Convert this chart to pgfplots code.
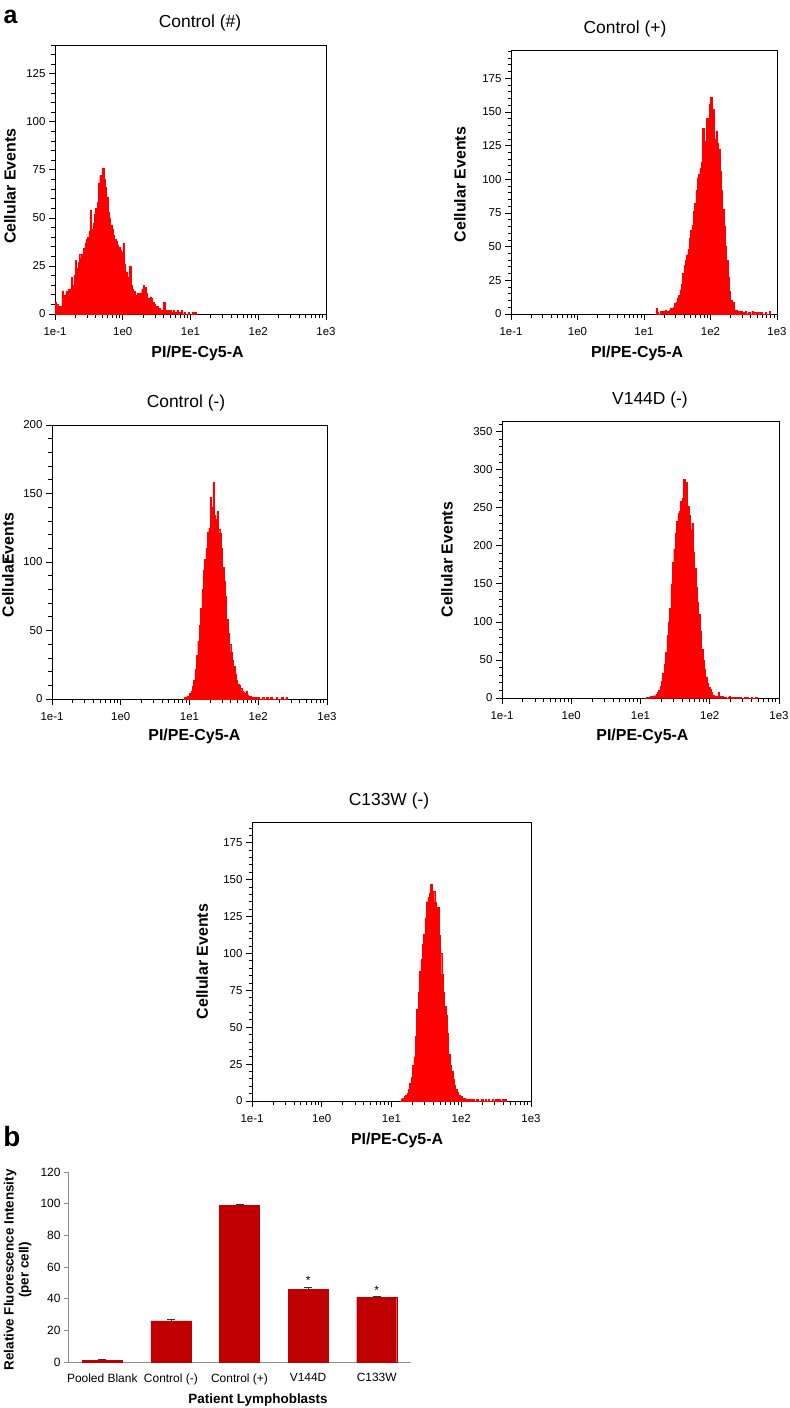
\documentclass[border=0pt]{standalone}
\usepackage{fontspec}
\setmainfont{Liberation Sans}
\usepackage{pgfplots}
\pgfplotsset{compat=1.18}
\definecolor{histred}{RGB}{255,0,0}
\definecolor{barred}{RGB}{192,0,0}
\pgfplotsset{
  hist/.style={
    scale only axis,
    xmin=-1, xmax=3, ymin=0,
    xtick={-1,0,1,2,3},
    xticklabels={1e-1,1e0,1e1,1e2,1e3},
    minor xtick={-0.699,-0.523,-0.398,-0.301,-0.222,-0.155,-0.097,-0.046,
      0.301,0.477,0.602,0.699,0.778,0.845,0.903,0.954,
      1.301,1.477,1.602,1.699,1.778,1.845,1.903,1.954,
      2.301,2.477,2.602,2.699,2.778,2.845,2.903,2.954},
    tick align=outside, tick pos=left,
    major tick length=6bp, minor tick length=3.5bp,
    axis line style={line width=0.9bp},
    every tick/.style={black, line width=0.8bp},
    ticklabel style={font=\fontsize{11.5}{11.5}\selectfont},
    /pgf/number format/assume math mode=true,
    xticklabel style={yshift=-4bp},
    xlabel={PI/PE-Cy5-A}, ylabel={Cellular Events},
    label style={font=\fontsize{16}{16}\selectfont\bfseries},
    xlabel style={anchor=center},
    ylabel style={anchor=center},
  },
  histplot/.style={const plot, fill=histred, draw=histred, line width=0.4bp},
}
\begin{document}
\begin{tikzpicture}
\path[use as bounding box] (0,0) rectangle (790bp,-1408bp);

% Panel 1: Control (#)
\begin{axis}[hist, at={(55bp,-314bp)}, anchor=south west, width=271bp, height=269bp,
  ymax=140, ytick={0,25,...,125}, minor ytick={0,5,...,140},
  ylabel style={at={(axis description cs:-0.166,0.475)}},
  xlabel style={at={(axis description cs:0.526,-0.145)}}]
\addplot[histplot] coordinates {(-1.00,6) (-0.98,5) (-0.96,4) (-0.94,3) (-0.92,4) (-0.90,12) (-0.88,9) (-0.86,10) (-0.84,12) (-0.82,10) (-0.80,13) (-0.78,12) (-0.76,19) (-0.74,15) (-0.72,20) (-0.70,28) (-0.68,24) (-0.66,27) (-0.64,31) (-0.62,29) (-0.60,31) (-0.58,34) (-0.56,37) (-0.54,39) (-0.52,40) (-0.50,43) (-0.48,54) (-0.46,44) (-0.44,47) (-0.42,52) (-0.40,55) (-0.38,58) (-0.36,68) (-0.34,72) (-0.32,65) (-0.30,76) (-0.28,70) (-0.26,66) (-0.24,61) (-0.22,53) (-0.20,50) (-0.18,46) (-0.16,44) (-0.14,41) (-0.12,39) (-0.10,38) (-0.08,36) (-0.06,35) (-0.04,33) (-0.02,32) (0.00,37) (0.02,26) (0.04,22) (0.06,19) (0.08,17) (0.10,25) (0.12,15) (0.14,13) (0.16,12) (0.18,9) (0.20,10) (0.22,11) (0.24,10) (0.26,11) (0.28,13) (0.30,15) (0.32,14) (0.34,11) (0.36,8) (0.38,8) (0.40,9) (0.42,8) (0.44,6) (0.46,5) (0.48,4) (0.50,4) (0.52,3) (0.54,3) (0.56,2) (0.58,2) (0.60,6) (0.62,2) (0.64,1) (0.66,2) (0.68,1) (0.70,2) (0.72,1) (0.74,2) (0.76,1) (0.78,1) (0.80,2) (0.82,0) (0.84,1) (0.86,2) (0.88,0) (0.90,1) (0.92,0) (0.94,0) (0.96,1) (0.98,0) (1.00,0) (1.02,1) (1.04,0) (1.06,1) (1.08,0) (1.10,0)} \closedcycle;
\end{axis}

% Panel 2: Control (+)
\begin{axis}[hist, at={(511bp,-314bp)}, anchor=south west, width=266bp, height=264bp,
  ymax=196, ytick={0,25,...,175}, minor ytick={0,5,...,195},
  ylabel style={at={(axis description cs:-0.192,0.49)}},
  xlabel style={at={(axis description cs:0.474,-0.148)}}]
\addplot[histplot] coordinates {(1.16,0) (1.18,4) (1.20,1) (1.22,0) (1.24,2) (1.26,1) (1.28,2) (1.30,1) (1.32,3) (1.34,2) (1.36,2) (1.38,3) (1.40,4) (1.42,3) (1.44,5) (1.46,8) (1.48,9) (1.50,12) (1.52,14) (1.54,18) (1.56,22) (1.58,30) (1.60,36) (1.62,40) (1.64,44) (1.66,48) (1.68,56) (1.70,62) (1.72,66) (1.74,76) (1.76,82) (1.78,92) (1.80,101) (1.82,104) (1.84,108) (1.86,113) (1.88,138) (1.90,118) (1.92,128) (1.94,145) (1.96,135) (1.98,156) (2.00,161) (2.02,140) (2.04,152) (2.06,130) (2.08,136) (2.10,127) (2.12,122) (2.14,106) (2.16,92) (2.18,78) (2.20,65) (2.22,50) (2.24,40) (2.26,27) (2.28,17) (2.30,10) (2.32,6) (2.34,9) (2.36,3) (2.38,3) (2.40,2) (2.42,2) (2.44,1) (2.46,2) (2.48,1) (2.50,1) (2.52,2) (2.54,0) (2.56,1) (2.58,1) (2.60,0) (2.62,2) (2.64,0) (2.66,1) (2.68,0) (2.70,1) (2.72,1) (2.74,0) (2.76,1) (2.78,0) (2.80,0) (2.82,1) (2.84,0) (2.86,0) (2.88,2) (2.90,0)} \closedcycle;
\end{axis}

% Panel 3: Control (-)
\begin{axis}[hist, at={(52bp,-699bp)}, anchor=south west, width=275bp, height=274bp,
  ymax=200, ytick={0,50,...,200}, minor ytick={0,10,...,200},
  ylabel={Cellula\rlap{r}Events},
  ylabel style={at={(axis description cs:-0.16,0.49)}},
  xlabel style={at={(axis description cs:0.518,-0.135)}}]
\addplot[histplot] coordinates {(0.90,0) (0.92,1) (0.94,1) (0.96,2) (0.98,2) (1.00,4) (1.02,6) (1.04,9) (1.06,14) (1.08,22) (1.10,32) (1.12,42) (1.14,54) (1.16,66) (1.18,80) (1.20,94) (1.22,102) (1.24,110) (1.26,122) (1.28,125) (1.30,147) (1.32,140) (1.34,158) (1.36,134) (1.38,131) (1.40,137) (1.42,124) (1.44,121) (1.46,110) (1.48,96) (1.50,86) (1.52,75) (1.54,58) (1.56,48) (1.58,40) (1.60,34) (1.62,28) (1.64,24) (1.66,18) (1.68,14) (1.70,11) (1.72,10) (1.74,8) (1.76,6) (1.78,5) (1.80,4) (1.82,6) (1.84,3) (1.86,2) (1.88,2) (1.90,1) (1.92,1) (1.94,0) (1.96,1) (1.98,0) (2.00,1) (2.02,0) (2.04,0) (2.06,1) (2.08,0) (2.10,0) (2.12,1) (2.14,0) (2.16,0) (2.18,1) (2.20,0) (2.22,0) (2.24,0) (2.26,1) (2.28,0) (2.30,0) (2.32,0) (2.34,1) (2.36,0) (2.38,0) (2.40,1) (2.42,0)} \closedcycle;
\end{axis}

% Panel 4: V144D (-)
\begin{axis}[hist, at={(502bp,-698bp)}, anchor=south west, width=277bp, height=277bp,
  ymax=364, ytick={0,50,...,350}, minor ytick={0,10,...,360},
  ylabel style={at={(axis description cs:-0.199,0.5)}},
  xlabel style={at={(axis description cs:0.507,-0.137)}}]
\addplot[histplot] coordinates {(1.06,0) (1.08,1) (1.10,1) (1.12,1) (1.14,2) (1.16,2) (1.18,3) (1.20,3) (1.22,5) (1.24,7) (1.26,10) (1.28,15) (1.30,22) (1.32,32) (1.34,45) (1.36,60) (1.38,82) (1.40,100) (1.42,118) (1.44,150) (1.46,178) (1.48,196) (1.50,217) (1.52,232) (1.54,243) (1.56,246) (1.58,258) (1.60,262) (1.62,287) (1.64,266) (1.66,283) (1.68,252) (1.70,240) (1.72,221) (1.74,230) (1.76,192) (1.78,170) (1.80,146) (1.82,126) (1.84,110) (1.86,88) (1.88,64) (1.90,50) (1.92,38) (1.94,28) (1.96,20) (1.98,14) (2.00,11) (2.02,7) (2.04,4) (2.06,3) (2.08,2) (2.10,2) (2.12,8) (2.14,2) (2.16,1) (2.18,2) (2.20,1) (2.22,1) (2.24,0) (2.26,1) (2.28,2) (2.30,1) (2.32,0) (2.34,1) (2.36,1) (2.38,0) (2.40,1) (2.42,0) (2.44,1) (2.46,0) (2.48,0) (2.50,1) (2.52,0) (2.54,1) (2.56,0) (2.58,0) (2.60,1) (2.62,0) (2.64,0) (2.66,1) (2.68,0) (2.70,0)} \closedcycle;
\end{axis}

% Panel 5: C133W (-)
\begin{axis}[hist, at={(252bp,-1101bp)}, anchor=south west, width=279bp, height=279bp,
  ymax=189, ytick={0,25,...,175}, minor ytick={0,5,...,185},
  ylabel style={at={(axis description cs:-0.179,0.5)}},
  xlabel style={at={(axis description cs:0.52,-0.14)}}]
\addplot[histplot] coordinates {(1.12,0) (1.14,1) (1.16,2) (1.18,3) (1.20,4) (1.22,5) (1.24,8) (1.26,12) (1.28,16) (1.30,24) (1.32,30) (1.34,44) (1.36,62) (1.38,74) (1.40,88) (1.42,96) (1.44,106) (1.46,113) (1.48,124) (1.50,135) (1.52,138) (1.54,141) (1.56,147) (1.58,138) (1.60,142) (1.62,135) (1.64,130) (1.66,131) (1.68,112) (1.70,100) (1.72,86) (1.74,74) (1.76,64) (1.78,58) (1.80,46) (1.82,32) (1.84,24) (1.86,20) (1.88,15) (1.90,11) (1.92,8) (1.94,6) (1.96,4) (1.98,3) (2.00,3) (2.02,2) (2.04,2) (2.06,1) (2.08,1) (2.10,0) (2.12,1) (2.14,0) (2.16,1) (2.18,0) (2.20,0) (2.22,1) (2.24,0) (2.26,0) (2.28,1) (2.30,1) (2.32,0) (2.34,1) (2.36,0) (2.38,1) (2.40,0) (2.42,0) (2.44,1) (2.46,0) (2.48,1) (2.50,0) (2.52,1) (2.54,1) (2.56,0) (2.58,1) (2.60,0) (2.62,1) (2.64,0)} \closedcycle;
\end{axis}

% Panel b: bar chart
\begin{axis}[scale only axis, at={(68bp,-1362bp)}, anchor=south west, width=343bp, height=190bp,
  xmin=-0.5, xmax=4.5, ymin=0, ymax=120,
  axis x line=bottom, axis y line=left,
  axis line style={-, draw=black!45, line width=0.8bp},
  ytick={0,20,...,120},
  xtick={0,1,2,3,4},
  xticklabels={Pooled Blank,Control (-),Control (+),V144D,C133W},
  x tick style={draw=none},
  y tick style={draw=black!45, line width=0.8bp},
  tick align=outside, major tick length=4bp,
  ticklabel style={font=\fontsize{12}{12}\selectfont},
  /pgf/number format/assume math mode=true,
  xticklabel style={yshift=-4bp},
  ybar, bar width=40bp,
  xlabel={Patient Lymphoblasts},
  xlabel style={font=\fontsize{13.5}{13.5}\selectfont\bfseries, at={(axis description cs:0.554,-0.2)}, anchor=center},
  ylabel={Relative Fluorescence Intensity\\(per cell)},
  ylabel style={font=\fontsize{13.5}{15}\selectfont\bfseries, align=center, at={(axis description cs:-0.147,0.485)}, anchor=center},
]
\addplot[fill=barred, draw=barred,
  error bars/.cd, y dir=plus, y explicit,
  error bar style={black!80, line width=0.6bp},
  error mark options={rotate=90, mark size=4bp, black!80, line width=0.6bp}]
  coordinates {(0,1) +- (0,0.7) (1,26) +- (0,0.7) (2,99) +- (0,0.7) (3,46) +- (0,1.2) (4,41) +- (0,0.7)};
\node[font=\fontsize{12}{12}\selectfont, anchor=base] at (axis cs:3,49.2) {*};
\node[font=\fontsize{12}{12}\selectfont, anchor=base] at (axis cs:4,42.9) {*};
\end{axis}

% Titles and panel letters
\node[font=\fontsize{17.5}{17.5}\selectfont] at (200bp,-23bp) {Control (\#)};
\node[font=\fontsize{17.5}{17.5}\selectfont] at (625bp,-29bp) {Control (+)};
\node[font=\fontsize{17.5}{17.5}\selectfont] at (186bp,-403bp) {Control (-)};
\node[font=\fontsize{17.5}{17.5}\selectfont] at (650bp,-400bp) {V144D (-)};
\node[font=\fontsize{17.5}{17.5}\selectfont] at (389bp,-801bp) {C133W (-)};
\node[font=\fontsize{25}{25}\selectfont\bfseries] at (10.5bp,-16.5bp) {a};
\node[font=\fontsize{28}{28}\selectfont\bfseries] at (12bp,-1137bp) {b};
\end{tikzpicture}
\end{document}
